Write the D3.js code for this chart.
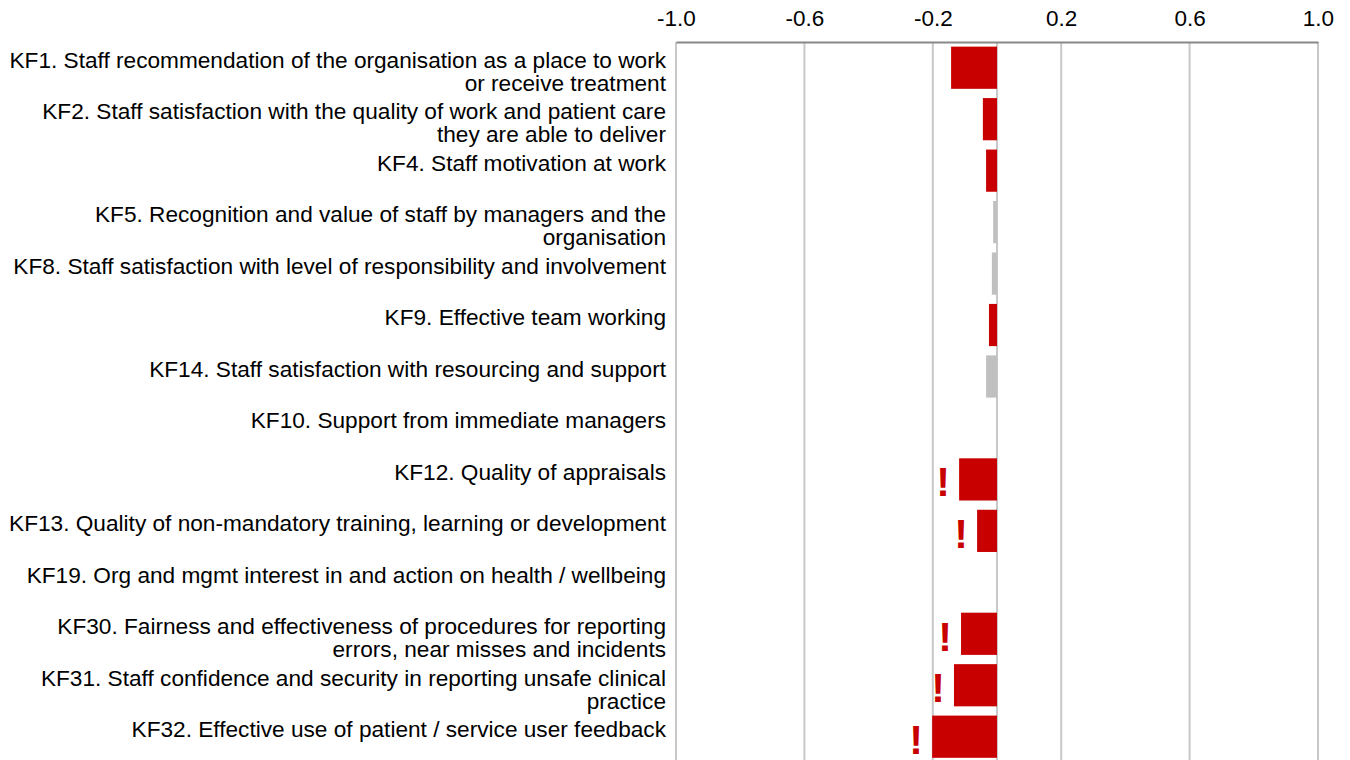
<!DOCTYPE html>
<html>
<head>
<meta charset="utf-8">
<script src="https://cdn.jsdelivr.net/npm/d3@7"></script>
<style>
  body { margin: 0; background: #fff; }
  text { font-family: "Liberation Sans", Arial, sans-serif; }
</style>
</head>
<body>
<svg id="chart" width="1350" height="760"></svg>
<script>
// key findings, lines split where the original wraps
var categories = [
  ["KF1. Staff recommendation of the organisation as a place to work", "or receive treatment"],
  ["KF2. Staff satisfaction with the quality of work and patient care", "they are able to deliver"],
  ["KF4. Staff motivation at work"],
  ["KF5. Recognition and value of staff by managers and the", "organisation"],
  ["KF8. Staff satisfaction with level of responsibility and involvement"],
  ["KF9. Effective team working"],
  ["KF14. Staff satisfaction with resourcing and support"],
  ["KF10. Support from immediate managers"],
  ["KF12. Quality of appraisals"],
  ["KF13. Quality of non-mandatory training, learning or development"],
  ["KF19. Org and mgmt interest in and action on health / wellbeing"],
  ["KF30. Fairness and effectiveness of procedures for reporting", "errors, near misses and incidents"],
  ["KF31. Staff confidence and security in reporting unsafe clinical", "practice"],
  ["KF32. Effective use of patient / service user feedback"]
];

var values = [-0.143, -0.044, -0.034, -0.012, -0.016, -0.025, -0.034, 0, -0.118, -0.062, 0, -0.112, -0.134, -0.202];

// "red" = worse, "grey" = not significant
var barType = ["red", "red", "red", "grey", "grey", "red", "grey", "red", "red", "red", "red", "red", "red", "red"];

// warning mark shown next to bar
var flagged = [false, false, false, false, false, false, false, false, true, true, false, true, true, true];

var tickValues = [-1.0, -0.6, -0.2, 0.2, 0.6, 1.0];

var svg = d3.select("#chart");

var x = d3.scaleLinear()
    .domain([-1, 1])
    .range([676, 1318]);

var y = d3.scaleBand()
    .domain(d3.range(categories.length))
    .range([42, 42 + 51.46 * categories.length])
    .paddingInner(0.18)
    .paddingOuter(0.09);

var step = y.step();

// gridlines
svg.append("g")
  .selectAll("line")
  .data(tickValues.concat([0]))
  .enter().append("line")
    .attr("x1", function(d) { return x(d); })
    .attr("x2", function(d) { return x(d); })
    .attr("y1", 42)
    .attr("y2", 760)
    .attr("stroke", "#c8c8c8")
    .attr("stroke-width", 2);

// top axis
var axis = svg.append("g")
    .attr("transform", "translate(0,42)")
    .call(d3.axisTop(x)
      .tickValues(tickValues)
      .tickSize(0)
      .tickPadding(16)
      .tickFormat(function(d) { return d3.format(".1f")(d).replace("\u2212", "-"); }));

axis.select(".domain")
    .attr("stroke", "#888")
    .attr("stroke-width", 2);

axis.selectAll("text")
    .style("font-family", "'Liberation Sans', Arial, sans-serif")
    .style("font-size", "22.5px")
    .attr("fill", "#000");

// bars
svg.append("g")
  .selectAll("rect")
  .data(values)
  .enter().append("rect")
    .attr("x", function(d) { return x(Math.min(0, d)); })
    .attr("y", function(d, i) { return y(i); })
    .attr("width", function(d) { return Math.abs(x(d) - x(0)); })
    .attr("height", y.bandwidth())
    .attr("fill", function(d, i) { return barType[i] == "red" ? "#c80000" : "#c0c0c0"; });

// exclamation marks
svg.append("g")
  .selectAll("text")
  .data(values.map(function(v, i) { return {v: v, i: i}; }).filter(function(d) { return flagged[d.i]; }))
  .enter().append("text")
    .attr("x", function(d) { return x(d.v) - 16; })
    .attr("y", function(d) { return y(d.i) + y.bandwidth() / 2 + 17; })
    .attr("text-anchor", "middle")
    .style("font-size", "41px")
    .style("font-weight", "bold")
    .attr("fill", "#c80000")
    .text("!");

// category labels
var labels = svg.append("g")
  .selectAll("text")
  .data(categories)
  .enter().append("text")
    .attr("text-anchor", "end")
    .style("font-size", "22.65px")
    .attr("fill", "#000")
    .attr("transform", function(d, i) { return "translate(666," + (42 + i * step + 26) + ")"; });

labels.selectAll("tspan")
  .data(function(d) { return d; })
  .enter().append("tspan")
    .attr("x", 0)
    .attr("dy", function(d, j) { return j == 0 ? 0 : 23; })
    .text(function(d) { return d; });
</script>
</body>
</html>
